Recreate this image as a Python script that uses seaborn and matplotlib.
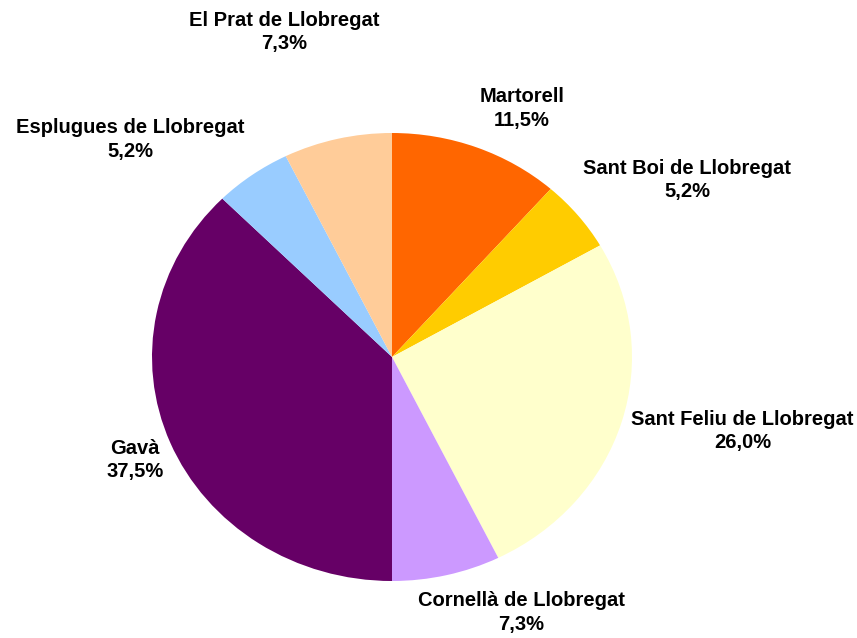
import numpy as np
import matplotlib
matplotlib.use("Agg")
import matplotlib.pyplot as plt
import seaborn as sns
from matplotlib import font_manager

# datos
municipis = ["Martorell", "Sant Boi de Llobregat", "Sant Feliu de Llobregat",
             "Cornellà de Llobregat", "Gavà", "Esplugues de Llobregat",
             "El Prat de Llobregat"]
percentatges = [11.5, 5.2, 26.0, 7.3, 37.5, 5.2, 7.3]
colors = ["#FF6600", "#FFCC00", "#FFFFCC", "#CC99FF", "#660066", "#99CCFF", "#FFCC99"]

# posicio de les etiquetes (unitats del radi)
label_pos = [(0.54, 1.11), (1.23, 0.79), (1.46, -0.33), (0.54, -1.14),
             (-1.07, -0.46), (-1.09, 0.97), (-0.45, 1.45)]

sns.set_theme(style="white")
names = {f.name for f in font_manager.fontManager.ttflist}
fam = "Liberation Sans Narrow" if "Liberation Sans Narrow" in names else "Liberation Sans"
plt.rcParams["font.family"] = [fam, "DejaVu Sans"]

fig = plt.figure(figsize=(8.57, 6.38), dpi=100)
ax = fig.add_axes([0, 0, 1, 1])
ax.pie(percentatges, colors=colors, startangle=90, counterclock=False,
       wedgeprops=dict(linewidth=0))
ax.set_aspect("auto")
ax.set_xlim(-392 / 240, (857 - 392) / 240)
ax.set_ylim(-(638 - 357) / 224, 357 / 224)
ax.axis("off")

for nom, p, (x, y) in zip(municipis, percentatges, label_pos):
    txt = f"{nom}\n{p:.1f}%".replace(".", ",")
    ax.text(x, y, txt, ha="center", va="center", fontsize=14.5,
            fontweight="bold", linespacing=1.3, color="black")

fig.savefig("out.png", dpi=100)
